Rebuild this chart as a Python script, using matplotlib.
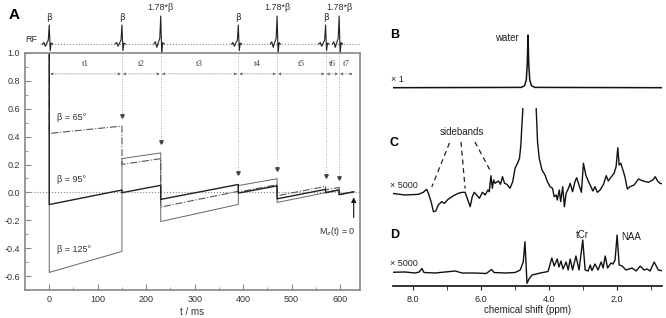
import matplotlib.pyplot as plt
from matplotlib.ticker import MultipleLocator

plt.rcParams['font.family'] = ['Liberation Sans', 'DejaVu Sans']
plt.rcParams['axes.unicode_minus'] = False

W, H = 666, 318

# ---- panel A data ----
pulse_times = [0, 150, 230, 390, 470, 570, 598]
pulse_labels = ['β', 'β', '1.78*β', 'β', '1.78*β', 'β', '1.78*β']
pulse_heights = [19, 19, 28, 19, 28, 19, 28]
end_time = 628
interval_labels = ['t1', 't2', 't3', 't4', 't5', 't6', 't7']
arrow_tips = [None, 0.55, 0.36, 0.14, 0.17, 0.12, 0.105]

# RF pulse shape (offset in ms, relative amplitude)
pulse_dt = [-14, -11, -8, -5, -2, 0, 2, 4, 7]
pulse_shape = [0, 0.08, -0.12, 0.05, 0.2, 1.0, -0.35, 0.05, 0]

# Mz at start / end of each interval
b65_start = [0.423, 0.201, -0.105, 0.003, -0.024, 0.018, -0.016]
b65_end = [0.476, 0.242, 0.008, 0.055, 0.043, 0.036, 0.004]
b95_start = [-0.087, -0.002, -0.050, -0.005, -0.046, -0.002, -0.016]
b95_end = [0.017, 0.051, 0.057, 0.047, 0.022, 0.017, 0.004]
b125_start = [-0.574, 0.243, -0.209, 0.049, -0.072, 0.001, -0.015]
b125_end = [-0.423, 0.283, -0.086, 0.098, -0.002, 0.020, 0.005]

# ---- spectra data (ppm, intensity) ----
b_ppm = [8.6, 4.82, 4.72, 4.67, 4.64, 4.62, 4.60, 4.57, 4.52, 4.42, 0.7]
b_int = [0, 0.3, 2, 8, 25, 52.7, 25, 8, 2, 0.3, 0]

c_ppm = [8.63, 8.24, 7.84, 7.70, 7.60, 7.55, 7.47, 7.40, 7.33, 7.26, 7.16, 7.08,
         6.96, 6.81, 6.67, 6.55, 6.47, 6.39, 6.32, 6.26, 6.20, 6.13, 6.05, 5.96,
         5.88, 5.80, 5.76, 5.71, 5.67, 5.63, 5.59, 5.49, 5.43, 5.37, 5.31, 5.24,
         5.15, 5.07, 5.00, 4.93, 4.87, 4.83, 4.80, 4.77, 4.60, 4.38, 4.34, 4.29,
         4.21, 4.12, 4.05, 3.97, 3.90, 3.85, 3.79, 3.76, 3.70, 3.66, 3.60, 3.55,
         3.50, 3.43, 3.38, 3.31, 3.24, 3.19, 3.12, 3.05, 2.99, 2.92, 2.84, 2.77,
         2.71, 2.65, 2.58, 2.50, 2.40, 2.32, 2.26, 2.19, 2.09, 2.03, 1.98, 1.94,
         1.89, 1.83, 1.77, 1.70, 1.62, 1.50, 1.37, 1.24, 1.08, 0.95, 0.88, 0.81,
         0.74, 0.64]
c_int = [1.7, 0, 0.7, 2.7, 5.7, 1.7, -6.7, -16.7, -16, -10, -6.7, -8.3,
         -4, -0.7, 1.7, 2.7, 2.7, -5, -11.7, -1.7, 2.7, 0, -3.3, 2.7,
         0, 5, 3.3, 19.3, 6.7, 15, 11.7, 14, 10.7, 18.3, 11.7, 10.7,
         6.7, 13.3, 26.7, 31.7, 36.7, 50, 70, 86.7, 400, 86.7, 53.3, 36.7,
         25, 20, 13.3, 8.3, 6.7, -1.7, 0, -5, 5, -6.7, 8.3, -11.7,
         1.7, 6.7, 11.7, 3.3, 13.3, 17.3, 10, 2.7, 31.7, 20, 13.3, 8.3,
         4, 8.3, 2.7, 5, 10.7, 19.3, 14, 17.3, 21.7, 28.3, 47.3, 30,
         31.7, 25, 18.3, 6, 8.3, 10, 16, 14, 12.7, 15, 18.3, 14,
         11.7, 11]

d_ppm = [8.63, 8.24, 7.94, 7.82, 7.74, 7.68, 7.35, 7.06, 6.76, 6.56, 6.18, 5.85,
         5.69, 5.62, 5.29, 5.00, 4.85, 4.76, 4.71, 4.68, 4.65, 4.59, 4.50, 4.26,
         4.03, 3.92, 3.85, 3.76, 3.71, 3.65, 3.59, 3.50, 3.44, 3.38, 3.31, 3.21,
         3.12, 3.01, 2.94, 2.85, 2.79, 2.74, 2.65, 2.56, 2.47, 2.41, 2.35, 2.28,
         2.18, 2.12, 2.06, 2.00, 1.94, 1.85, 1.74, 1.56, 1.44, 1.32, 1.21, 1.12,
         1.03, 0.91, 0.79, 0.65]
d_int = [0.2, 0.5, -0.5, 0.5, 4, 0, -0.5, 0.5, 1.5, -0.5, -0.5, -1,
         3, 0, -0.5, 0, 2.5, 10.5, 30.8, 10, -10.8, -6.5, -2.5, -0.5,
         1, 14.5, 6.5, 13.5, 5.5, 11.5, 3.5, 10.5, 2.5, 13.5, 2.5, 16.5,
         2.5, 32.5, 2.5, 1.5, 7.5, 2, 8.5, 2.5, 10.5, 4.5, 16.5, 4.5,
         9.5, 8.5, 12.5, 37.5, 7.5, 6.5, 2.5, 4.5, 1.5, 6.5, 2.5, 3.5,
         1.5, 10.5, 2.5, 1.5]

# sideband pointers (text anchor -> spectrum point)
sb_from = [(6.93, 52), (6.59, 53), (6.18, 53)]
sb_to = [(7.45, 8), (6.47, 6.5), (5.74, 25)]

gray = '#888888'
dark = '#333333'


def rect(l, t, r, b):
    return [l / W, 1 - b / H, (r - l) / W, (b - t) / H]


def ftext(x, y, s, **kw):
    fig.text(x / W, 1 - y / H, s, **kw)


def mz_path(start, end):
    ts, ys = [0], [1.0]
    bounds = pulse_times + [end_time]
    for i in range(len(start)):
        ts += [bounds[i], bounds[i + 1]]
        ys += [start[i], end[i]]
    return ts, ys


fig = plt.figure(figsize=(W / 100, H / 100), dpi=100)

# ---- RF row ----
ax_rf = fig.add_axes(rect(25, 3, 360, 53))
ax_rf.set_xlim(-50, 641)
ax_rf.set_ylim(-9, 41)
ax_rf.axis('off')
ax_rf.plot([-20, 641], [0, 0], ls=':', color=gray, lw=0.8)
for t, h, lab in zip(pulse_times, pulse_heights, pulse_labels):
    ax_rf.plot([t + d for d in pulse_dt], [h * s for s in pulse_shape], color='#222222', lw=0.8)
    ax_rf.text(t, h + 8 if lab == 'β' else 37, lab, ha='center', va='center',
               fontsize=6.5, color=dark, family=['DejaVu Sans'] if lab == 'β' else None)
ax_rf.text(-49, 5, 'RF', fontsize=6.5, color=dark, va='center')
ftext(9, 15, 'A', fontsize=11, fontweight='bold', va='center')

# ---- main Mz axes ----
ax = fig.add_axes(rect(25, 53, 360, 290))
ax.set_xlim(-50, 641)
ax.set_ylim(-0.7, 1.0)
for s in ax.spines.values():
    s.set_color(gray)
    s.set_linewidth(1.2)
ax.xaxis.set_major_locator(MultipleLocator(100))
ax.xaxis.set_minor_locator(MultipleLocator(50))
ax.yaxis.set_major_locator(MultipleLocator(0.2))
ax.yaxis.set_minor_locator(MultipleLocator(0.1))
ax.tick_params(which='both', direction='in', colors=gray, labelcolor=dark, labelsize=6.5, top=False, right=False)
ax.tick_params(which='major', length=4)
ax.tick_params(which='minor', length=2)
ax.set_xticks([0, 100, 200, 300, 400, 500, 600])
ax.set_xticks([50, 150, 250, 350, 450, 550], minor=True)
ax.set_yticks([-0.6, -0.4, -0.2, 0.0, 0.2, 0.4, 0.6, 0.8, 1.0])
ax.set_yticklabels(['%.1f' % v for v in [-0.6, -0.4, -0.2, 0.0, 0.2, 0.4, 0.6, 0.8, 1.0]])
ax.set_xlabel('t / ms', fontsize=7, color=dark, labelpad=2)

ax.axhline(0, ls=':', color=gray, lw=0.8)

t125, y125 = mz_path(b125_start, b125_end)
ax.plot(t125, y125, color='#666666', lw=0.7)
t65, y65 = mz_path(b65_start, b65_end)
ax.plot(t65, y65, color='#555555', lw=0.8, ls='-.')
t95, y95 = mz_path(b95_start, b95_end)
ax.plot(t95, y95, color='#222222', lw=1.0)

# pulse markers and intervals
bounds = pulse_times + [end_time]
for i, t in enumerate(pulse_times):
    if arrow_tips[i] is not None:
        ax.plot([t, t], [1.0, arrow_tips[i]], ls=':', color='#aaaaaa', lw=0.7)
        ax.plot(t, arrow_tips[i], marker='v', ms=2.5, color='#444444')
    ax.annotate('', xy=(bounds[i + 1] - 2, 0.85), xytext=(t + 2, 0.85),
                arrowprops=dict(arrowstyle='<|-|>', color='#555555', lw=0.4,
                                mutation_scale=4, shrinkA=0, shrinkB=0, ls=':'))
    ax.text((t + bounds[i + 1]) / 2, 0.92, interval_labels[i], ha='center', va='center',
            fontsize=6.5, color='#444444', family=['Liberation Serif', 'DejaVu Serif'])

ax.text(15, 0.54, 'β = 65°', fontsize=6.5, color=dark, va='center')
ax.text(15, 0.09, 'β = 95°', fontsize=6.5, color=dark, va='center')
ax.text(15, -0.41, 'β = 125°', fontsize=6.5, color=dark, va='center')
ax.annotate('', xy=(end_time, -0.015), xytext=(end_time, -0.2),
            arrowprops=dict(arrowstyle='-|>', color='#111111', lw=0.8, mutation_scale=7))
ax.text(594, -0.28, r'M$_z$(t) = 0', fontsize=6.5, color=dark, ha='center', va='center')

# ---- spectra ----
axB = fig.add_axes(rect(393, 30, 662, 95))
axC = fig.add_axes(rect(393, 108, 662, 215))
axD = fig.add_axes(rect(393, 228, 662, 286))
for a in (axB, axC, axD):
    a.set_xlim(8.59, 0.68)
    a.set_yticks([])
    for s in a.spines.values():
        s.set_visible(False)
axB.set_xticks([])
axC.set_xticks([])
axB.set_ylim(-7.3, 57.7)
axC.set_ylim(-20, 87)
axD.set_ylim(-13.5, 44.5)

axB.plot(b_ppm, b_int, color='#111111', lw=1.1)
axC.plot(c_ppm, c_int, color='#111111', lw=1.0)
axD.plot(d_ppm, d_int, color='#111111', lw=1.0)

axB.text(4.88, 49.7, 'water', fontsize=7, ha='right', va='center', color='#222222')
axC.text(6.56, 63, 'sidebands', fontsize=7, ha='center', va='center', color='#222222')
for (x0, y0), (x1, y1) in zip(sb_from, sb_to):
    axC.plot([x0, x1], [y0, y1], ls=(0, (4, 3)), color='#222222', lw=0.9)
axD.text(3.01, 37.5, 'tCr', fontsize=7, ha='center', va='center', color='#222222')
axD.text(1.88, 35.5, 'NAA', fontsize=7, ha='left', va='center', color='#222222')

axD.spines['bottom'].set_visible(True)
axD.spines['bottom'].set_color('#111111')
axD.spines['bottom'].set_linewidth(1.2)
axD.xaxis.set_major_locator(MultipleLocator(2))
axD.xaxis.set_minor_locator(MultipleLocator(1))
axD.set_xticks([8, 6, 4, 2])
axD.set_xticklabels(['8.0', '6.0', '4.0', '2.0'])
axD.tick_params(which='both', direction='out', labelsize=6.5, colors='#222222')
axD.tick_params(which='major', length=3)
axD.tick_params(which='minor', length=3)
axD.set_xlabel('chemical shift (ppm)', fontsize=7, color='#222222', labelpad=1)

ftext(390, 35, 'B', fontsize=9, fontweight='bold', va='center')
ftext(390, 143, 'C', fontsize=9, fontweight='bold', va='center')
ftext(390, 235, 'D', fontsize=9, fontweight='bold', va='center')
ftext(391, 79, '× 1', fontsize=6.5, va='center', color='#222222')
ftext(390, 186, '× 5000', fontsize=6.5, va='center', color='#222222')
ftext(390, 263, '× 5000', fontsize=6.5, va='center', color='#222222')

fig.savefig('out.png', dpi=100)
